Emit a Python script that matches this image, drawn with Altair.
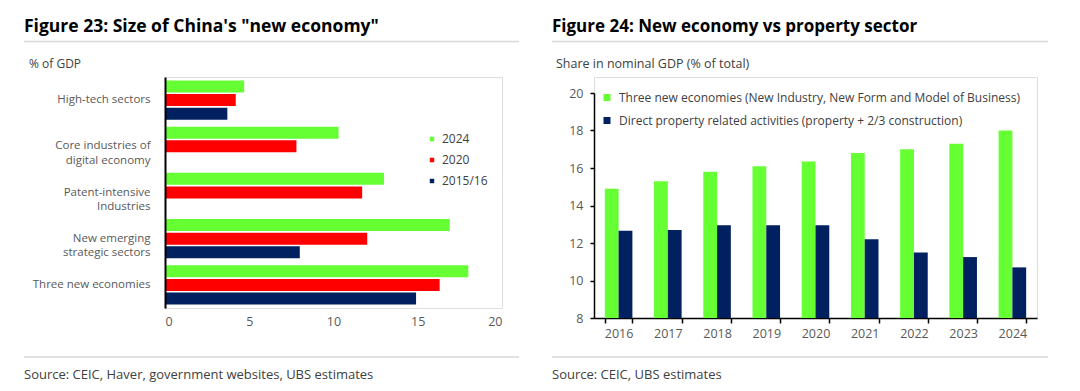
import altair as alt
import pandas as pd

# ---------------- Figure 23 data ----------------
categories23 = [
    "High-tech sectors",
    "Core industries of|digital economy",
    "Patent-intensive|Industries",
    "New emerging|strategic sectors",
    "Three new economies",
]
series23 = ["2024", "2020", "2015/16"]
values23_2024 = [4.7, 10.3, 13.0, 16.9, 18.0]
values23_2020 = [4.2, 7.8, 11.7, 12.0, 16.3]
values23_2015 = [3.7, None, None, 8.0, 14.9]
colors23 = ["#66FF33", "#FF0000", "#002060"]
xticks23 = [0, 5, 10, 15, 20]

# ---------------- Figure 24 data ----------------
years24 = ["2016", "2017", "2018", "2019", "2020", "2021", "2022", "2023", "2024"]
series24 = [
    "Three new economies (New Industry, New Form and Model of Business)",
    "Direct property related activities (property + 2/3 construction)",
]
new_economy24 = [14.9, 15.3, 15.8, 16.1, 16.35, 16.8, 17.0, 17.3, 18.0]
property24 = [12.65, 12.7, 12.95, 12.95, 12.95, 12.2, 11.5, 11.25, 10.7]
colors24 = ["#66FF33", "#002060"]
yticks24 = [8, 10, 12, 14, 16, 18, 20]

FONT = "Open Sans"
TXT = "#404040"
GRID = "#d9d9d9"

rows23 = []
for s, vals in zip(series23, [values23_2024, values23_2020, values23_2015]):
    for c, v in zip(categories23, vals):
        if v is not None:
            rows23.append({"category": c, "series": s, "value": v})
df23 = pd.DataFrame(rows23)

rows24 = []
for s, vals in zip(series24, [new_economy24, property24]):
    for yv, v in zip(years24, vals):
        rows24.append({"year": yv, "indicator": s, "share": v})
df24 = pd.DataFrame(rows24)

one = alt.Data(values=[{"k": 1}])


def text(txt, x, y, size=12.5, weight="normal", color=TXT):
    return alt.Chart(one).mark_text(
        align="left", baseline="alphabetic", font=FONT, fontSize=size,
        fontWeight=weight, color=color
    ).encode(x=alt.value(x), y=alt.value(y), text=alt.value(txt))


def hrule(x1, x2, y):
    return alt.Chart(one).mark_rule(color=GRID, strokeWidth=1.5).encode(
        x=alt.value(x1), x2=alt.value(x2), y=alt.value(y)
    )


# ---------------- Left panel ----------------
W23, H23 = 337, 231
bars23 = alt.Chart(df23).mark_bar().encode(
    y=alt.Y(
        "category:N", sort=categories23,
        scale=alt.Scale(domain=categories23, paddingInner=0.15, paddingOuter=0.075),
        axis=alt.Axis(
            title=None, labelExpr="split(datum.label, '|')", ticks=False,
            domainColor="#000000", domainWidth=2, labelPadding=15,
            labelFontSize=11.5, labelColor="#595959", labelLineHeight=14.5,
            labelFont=FONT, zindex=1,
        ),
    ),
    yOffset=alt.YOffset("series:N", sort=series23,
                        scale=alt.Scale(domain=series23, paddingInner=0.12)),
    x=alt.X(
        "value:Q", scale=alt.Scale(domain=[0, 20], nice=False),
        axis=alt.Axis(
            title=None, values=xticks23, domain=False, ticks=False, grid=False,
            labelPadding=7, labelFontSize=12.5, labelColor="#595959", labelFont=FONT,
        ),
    ),
    color=alt.Color(
        "series:N", sort=series23,
        scale=alt.Scale(domain=series23, range=colors23),
        legend=alt.Legend(
            title=None, orient="none", legendX=261, legendY=56,
            symbolType="square", symbolSize=20, symbolStrokeWidth=0,
            labelFontSize=12, labelColor=TXT, labelFont=FONT,
            rowPadding=9, padding=0, labelOffset=4,
        ),
    ),
)

left = alt.layer(
    bars23,
    text('Figure 23: Size of China\'s "new economy"', -141, -45.5, size=17.5, weight="bold", color="#000000"),
    hrule(-141, 354, -35.5),
    text("% of GDP", -136, -9.5, size=12),
    hrule(-141, 354, 280),
    text("Source: CEIC, Haver, government websites, UBS estimates", -141, 302, size=13),
).properties(width=W23, height=H23)

# ---------------- Right panel ----------------
# plot area spans page y 76..317; the value axis itself runs from 20 (y=92) to 8 (y=317)
W24, H24 = 443, 241
bars24 = alt.Chart(df24).mark_bar().encode(
    x=alt.X(
        "year:N", sort=years24,
        scale=alt.Scale(paddingInner=0.44, paddingOuter=0.22),
        axis=alt.Axis(
            title=None, labelAngle=0, tickBand="extent", domainColor="#000000",
            domainWidth=1.5, tickColor="#000000", tickWidth=1.5, tickSize=5,
            labelPadding=4, labelFontSize=12.5, labelColor="#595959", labelFont=FONT,
        ),
    ),
    xOffset=alt.XOffset("indicator:N", sort=series24, scale=alt.Scale(domain=series24)),
    y=alt.Y(
        "share:Q", scale=alt.Scale(domain=[8, 20], zero=False, nice=False, range=[241, 16]),
        axis=alt.Axis(
            title=None, values=yticks24, grid=False, domainColor="#000000",
            domainWidth=1.5, tickColor="#000000", tickWidth=1.5, tickSize=4,
            labelPadding=7, labelFontSize=12.5, labelColor="#595959", labelFont=FONT,
        ),
    ),
    y2=alt.datum(8),
    color=alt.Color(
        "indicator:N", sort=series24,
        scale=alt.Scale(domain=series24, range=colors24),
        legend=alt.Legend(
            title=None, orient="none", legendX=7, legendY=14.5,
            symbolType="square", symbolSize=49, symbolStrokeWidth=0,
            labelFontSize=12, labelColor=TXT, labelFont=FONT, labelLimit=600,
            rowPadding=11, padding=0, labelOffset=6,
        ),
    ),
)

right = alt.layer(
    bars24,
    text("Figure 24: New economy vs property sector", -42, -45.5, size=17, weight="bold", color="#000000"),
    hrule(-42, 454, -35.5),
    text("Share in nominal GDP (% of total)", -38, -9.5, size=12.5),
    hrule(-42, 454, 280),
    text("Source: CEIC, UBS estimates", -42, 302, size=13),
).properties(width=W24, height=H24)

chart = alt.hconcat(left, right, spacing=29).resolve_scale(
    color="independent"
).resolve_legend(color="independent").properties(
    padding={"left": 14, "top": 9, "right": 0, "bottom": 0}
).configure_view(stroke=None).configure(font=FONT)

chart.save("out.html", embed_options={"renderer": "svg", "actions": False})
